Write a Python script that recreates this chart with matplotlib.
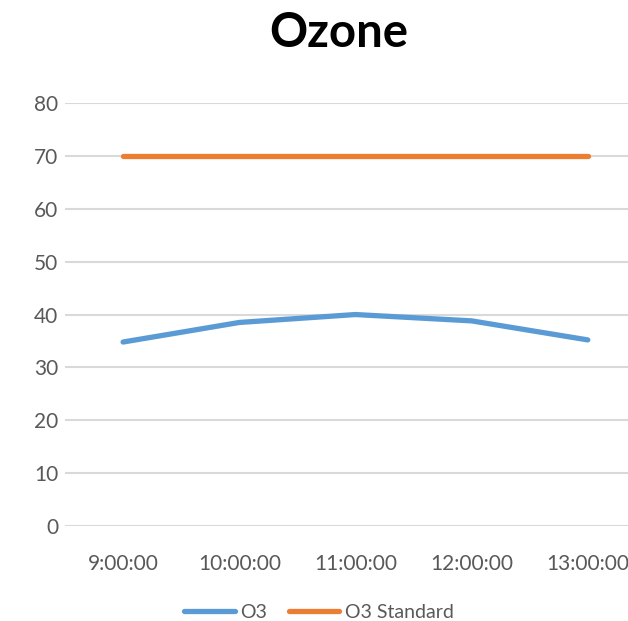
import matplotlib
matplotlib.use('Agg')
import matplotlib.pyplot as plt
import numpy as np

times = ['9:00:00', '10:00:00', '11:00:00', '12:00:00', '13:00:00']
o3 = [34.8, 38.5, 40.0, 38.8, 35.2]
o3_standard = [70, 70, 70, 70, 70]

plt.rcParams['font.family'] = ['Lato', 'DejaVu Sans']

fig = plt.figure(figsize=(6.28, 6.21), dpi=100)
ax = fig.add_axes([0.1035, 0.153, 0.925, 0.681])

x = np.arange(len(times))
ax.plot(x, o3, color='#5b9bd5', linewidth=3.8, solid_capstyle='round', solid_joinstyle='round', label='O3')
ax.plot(x, o3_standard, color='#ed7d31', linewidth=3.8, solid_capstyle='round', label='O3 Standard')

ax.set_xlim(-0.5, len(times) - 0.5)
ax.set_ylim(0, 80)
ax.set_yticks(range(0, 81, 10))
ax.set_xticks(x)
ax.set_xticklabels(times)
ax.yaxis.grid(True, color='#d9d9d9', linewidth=1.5)
ax.set_axisbelow(True)
for s in ax.spines.values():
    s.set_visible(False)
ax.tick_params(length=0, labelsize=15, colors='#595959')
ax.tick_params(axis='x', pad=20)
ax.tick_params(axis='y', pad=5)

fig.text(0.54, 0.947, 'Ozone', ha='center', va='center', fontsize=34, fontweight='bold', color='black')

leg = fig.legend(loc='center', bbox_to_anchor=(0.508, 0.014), ncol=2, frameon=False,
                 fontsize=14, handlelength=2.6, columnspacing=1.1, handletextpad=0.3,
                 labelcolor='#595959')

fig.savefig('out.png', dpi=100)
